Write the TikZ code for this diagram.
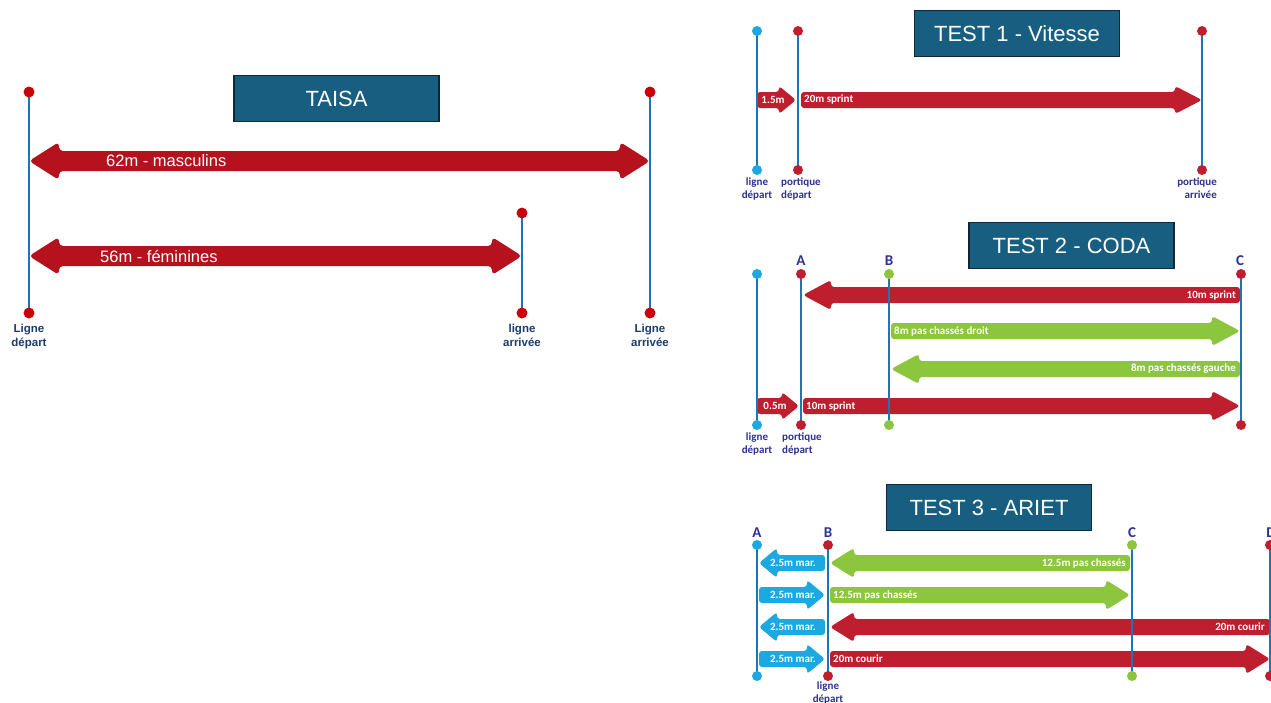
\documentclass[tikz,border=0pt]{standalone}
\usepackage{fontspec}
\setmainfont{Liberation Sans}
\newfontfamily\lblfont{Carlito}
\definecolor{titlefill}{RGB}{24,94,128}
\definecolor{titledraw}{RGB}{14,40,56}
\definecolor{taisared}{RGB}{181,18,30}
\definecolor{testred}{RGB}{190,30,45}
\definecolor{dotred}{RGB}{200,0,10}
\definecolor{lineblue}{RGB}{27,117,187}
\definecolor{lightblue}{RGB}{28,169,225}
\definecolor{grn}{RGB}{140,198,63}
\definecolor{lbldark}{RGB}{46,49,146}
\definecolor{taisalbl}{RGB}{28,60,110}
% right arrow: x-tail, x-tip, y, shaft half, head half, head length, colour
\newcommand\ArrRight[7]{\fill[#7,rounded corners=3pt] (#1,#3-#4) -- (#2-#6,#3-#4) -- (#2-#6,#3-#5) -- (#2,#3) -- (#2-#6,#3+#5) -- (#2-#6,#3+#4) -- (#1,#3+#4) -- cycle;}
% left arrow: x-tip, x-tail, ...
\newcommand\ArrLeft[7]{\fill[#7,rounded corners=3pt] (#1,#3) -- (#1+#6,#3-#5) -- (#1+#6,#3-#4) -- (#2,#3-#4) -- (#2,#3+#4) -- (#1+#6,#3+#4) -- (#1+#6,#3+#5) -- cycle;}
% double arrow
\newcommand\ArrBoth[7]{\fill[#7,rounded corners=4pt] (#1,#3) -- (#1+#6,#3-#5) -- (#1+#6,#3-#4) -- (#2-#6,#3-#4) -- (#2-#6,#3-#5) -- (#2,#3) -- (#2-#6,#3+#5) -- (#2-#6,#3+#4) -- (#1+#6,#3+#4) -- (#1+#6,#3+#5) -- cycle;}
\begin{document}
\begin{tikzpicture}[x=1pt,y=-1pt,
  titlebox/.style={draw=titledraw,line width=1.5pt,fill=titlefill,text=white,
    minimum width=205pt,minimum height=46pt,inner sep=0pt,font=\fontsize{22}{24}\selectfont},
  vline/.style={draw=lineblue,line width=2.8pt},
  intext/.style={text=white,inner sep=0pt,font=\lblfont\bfseries\fontsize{11}{12}\selectfont},
  bigtext/.style={text=white,inner sep=0pt,font=\fontsize{16.5}{18}\selectfont},
  tlbl/.style={text=taisalbl,inner sep=0pt,align=center,font=\bfseries\fontsize{11.5}{14}\selectfont},
  lbl/.style={text=lbldark,inner sep=0pt,font=\lblfont\bfseries\fontsize{11}{12.5}\selectfont},
  letter/.style={text=lbldark,inner sep=0pt,font=\lblfont\bfseries\fontsize{15}{16}\selectfont}]
\useasboundingbox[fill=white] (0,0) rectangle (1271,702);

%%%%%%%%%%%%%%%%%%%% TAISA
\node[titlebox] (tTaisa) at (336.5,98.5) {TAISA};
\ArrBoth{29}{650}{161}{10}{19}{30}{taisared}
\ArrBoth{29}{522}{256}{10}{19}{30}{taisared}
\coordinate (ta1) at (29,92);  \coordinate (tb1) at (29,313);
\coordinate (ta2) at (522,213); \coordinate (tb2) at (522,313);
\coordinate (ta3) at (650,92); \coordinate (tb3) at (650,313);
\foreach \i in {1,2,3}{\draw[vline] (ta\i) -- (tb\i);
  \fill[dotred] (ta\i) circle (5.5pt); \fill[dotred] (tb\i) circle (5.5pt);}
\node[bigtext,anchor=west] (tMasc) at (106,161) {62m - masculins};
\node[bigtext,anchor=west] (tFem) at (100,256) {56m - féminines};
\node[tlbl,anchor=north] (tL1) at (29,324) {Ligne\\départ};
\node[tlbl,anchor=north] (tL2) at (522,324) {ligne\\arrivée};
\node[tlbl,anchor=north] (tL3) at (650,324) {Ligne\\arrivée};

%%%%%%%%%%%%%%%%%%%% TEST 1
\node[titlebox] (t1) at (1017,33.5) {TEST 1 - Vitesse};
\ArrRight{757}{796}{100}{8}{14}{17}{testred}
\ArrRight{801}{1202}{100}{8}{14}{27}{testred}
\coordinate (a1) at (757,31);  \coordinate (b1) at (757,170);
\coordinate (a2) at (798,31);  \coordinate (b2) at (798,170);
\coordinate (a3) at (1202,31); \coordinate (b3) at (1202,170);
\draw[vline] (a1) -- (b1); \draw[vline] (a2) -- (b2); \draw[vline] (a3) -- (b3);
\fill[lightblue] (a1) circle (5pt); \fill[lightblue] (b1) circle (5pt);
\fill[testred] (a2) circle (5pt); \fill[testred] (b2) circle (5pt);
\fill[testred] (a3) circle (5pt); \fill[testred] (b3) circle (5pt);
\node[intext] (x15) at (773,100) {1.5m};
\node[intext,anchor=west] (x20) at (804,100) {20m sprint};
\node[lbl,anchor=north,align=center] (l11) at (757,178) {ligne\\départ};
\node[lbl,anchor=north west,align=left] (l12) at (781,178) {portique\\départ};
\node[lbl,anchor=north east,align=right] (l13) at (1217,178) {portique\\arrivée};

%%%%%%%%%%%%%%%%%%%% TEST 2
\node[titlebox] (t2) at (1071.5,245.5) {TEST 2 - CODA};
\ArrLeft{803}{1240}{295}{8}{15}{28}{testred}
\ArrRight{891}{1240}{331}{8}{15}{28}{grn}
\ArrLeft{891}{1240}{369}{8}{15}{28}{grn}
\ArrRight{757}{799}{406}{8}{14}{17}{testred}
\ArrRight{803}{1240}{406}{8}{15}{28}{testred}
\coordinate (c1) at (757,274);  \coordinate (d1) at (757,425);
\coordinate (c2) at (801,274);  \coordinate (d2) at (801,425);
\coordinate (c3) at (889,274);  \coordinate (d3) at (889,425);
\coordinate (c4) at (1241,274); \coordinate (d4) at (1241,425);
\foreach \i in {1,...,4}{\draw[vline] (c\i) -- (d\i);}
\fill[lightblue] (c1) circle (5pt); \fill[lightblue] (d1) circle (5pt);
\fill[testred] (c2) circle (5pt); \fill[testred] (d2) circle (5pt);
\fill[grn] (c3) circle (5pt); \fill[grn] (d3) circle (5pt);
\fill[testred] (c4) circle (5pt); \fill[testred] (d4) circle (5pt);
\node[letter] (lA2) at (801,261) {A};
\node[letter] (lB2) at (889,261) {B};
\node[letter] (lC2) at (1240,261) {C};
\node[intext,anchor=east] (y1) at (1236,295) {10m sprint};
\node[intext,anchor=west] (y2) at (894,331) {8m pas chassés droit};
\node[intext,anchor=east] (y3) at (1236,369) {8m pas chassés gauche};
\node[intext] (y4) at (775,406) {0.5m};
\node[intext,anchor=west] (y5) at (806,406) {10m sprint};
\node[lbl,anchor=north,align=center] (l21) at (757,433) {ligne\\départ};
\node[lbl,anchor=north west,align=left] (l22) at (782,433) {portique\\départ};

%%%%%%%%%%%%%%%%%%%% TEST 3
\node[titlebox] (t3) at (989,507.5) {TEST 3 - ARIET};
\foreach \yy in {563,627}{\ArrLeft{759}{825}{\yy}{8}{15}{18}{lightblue}}
\foreach \yy in {595,659}{\ArrRight{759}{825}{\yy}{8}{15}{18}{lightblue}}
\ArrLeft{830}{1130}{563}{8}{15}{24}{grn}
\ArrRight{830}{1130}{595}{8}{15}{24}{grn}
\ArrLeft{830}{1270}{627}{8}{15}{24}{testred}
\ArrRight{830}{1270}{659}{8}{15}{24}{testred}
\coordinate (e1) at (757,545);  \coordinate (f1) at (757,676);
\coordinate (e2) at (828,545);  \coordinate (f2) at (828,676);
\coordinate (e3) at (1132,545); \coordinate (f3) at (1132,676);
\coordinate (e4) at (1270,545); \coordinate (f4) at (1270,676);
\foreach \i in {1,...,4}{\draw[vline] (e\i) -- (f\i);}
\fill[lightblue] (e1) circle (5pt); \fill[lightblue] (f1) circle (5pt);
\fill[testred] (e2) circle (5pt); \fill[testred] (f2) circle (5pt);
\fill[grn] (e3) circle (5pt); \fill[grn] (f3) circle (5pt);
\fill[testred] (e4) circle (5pt); \fill[testred] (f4) circle (5pt);
\node[letter] (lA3) at (757,533) {A};
\node[letter] (lB3) at (828,533) {B};
\node[letter] (lC3) at (1132,533) {C};
\node[letter] (lD3) at (1271,533) {D};
\foreach \yy/\nm in {563/m1,595/m2,627/m3,659/m4}{\node[intext] (\nm) at (793,\yy) {2.5m mar.};}
\node[intext,anchor=east] (z1) at (1126,563) {12.5m pas chassés};
\node[intext,anchor=west] (z2) at (833,595) {12.5m pas chassés};
\node[intext,anchor=east] (z3) at (1265,627) {20m courir};
\node[intext,anchor=west] (z4) at (833,659) {20m courir};
\node[lbl,anchor=north,align=center] (l31) at (828,682) {ligne\\départ};
\end{tikzpicture}
\end{document}
